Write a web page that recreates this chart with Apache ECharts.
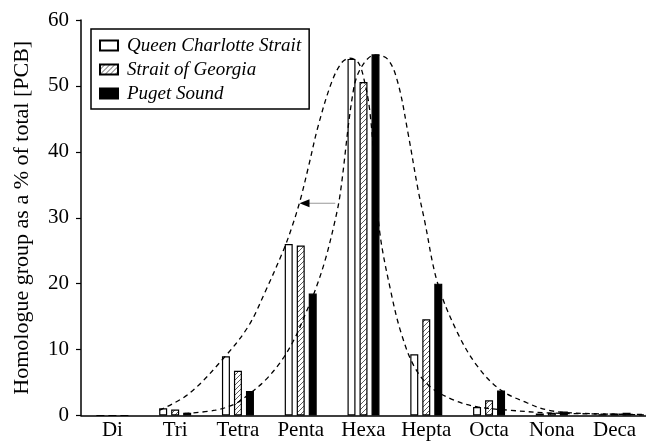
<!DOCTYPE html>
<html><head><meta charset="utf-8">
<script src="https://cdn.jsdelivr.net/npm/echarts@6/dist/echarts.min.js"></script>
<style>html,body{margin:0;padding:0;background:#fff}#c{width:646px;height:443px}</style>
</head><body><div id="c"></div>
<script>
const categories = ['Di','Tri','Tetra','Penta','Hexa','Hepta','Octa','Nona','Deca'];
const qcs = [0, 1.1, 9.0, 26.0, 54.1, 9.3, 1.3, 0.3, 0.2];
const sog = [0, 0.9, 6.8, 25.8, 50.6, 14.6, 2.3, 0.4, 0.3];
const ps  = [0, 0.4, 3.7, 18.5, 54.8, 20.0, 3.8, 0.6, 0.4];
const yTicks = [0, 10, 20, 30, 40, 50, 60];
// dashed fitted curves: [category position, %]
const qcsFit = [[0.75,0.8],[1.22,3.3],[1.79,8.9],[2.17,13.6],[2.44,18.9],[2.73,25.2],[2.86,28.6],[2.99,32.6],[3.12,37.6],[3.28,44.0],[3.49,50.5],[3.65,53.5],[3.78,54.2],[3.92,53.5],[4.02,50.5],[4.10,46.2],[4.18,37.5],[4.26,27.7],[4.44,18.6],[4.60,12.5],[4.81,7.4],[5.07,4.3],[5.45,2.3],[5.82,1.3],[6.29,0.83],[6.93,0.4],[7.72,0.23],[8.5,0.15]];
const psFit = [[1.15,0.3],[1.64,0.8],[1.96,1.8],[2.17,3.2],[2.44,5.4],[2.70,8.4],[2.91,11.8],[3.07,15.3],[3.23,19.0],[3.39,23.6],[3.55,29.7],[3.63,33.7],[3.84,49.4],[3.97,52.9],[4.18,54.7],[4.39,54.0],[4.55,50.4],[4.71,42.8],[4.87,34.2],[4.97,29.7],[5.18,20.1],[5.50,12.5],[5.82,7.4],[6.18,3.9],[6.61,1.9],[6.93,0.83],[7.35,0.38],[8.5,0.1]];
const arrowFrom = [3.55, 32.2];
const arrowTo = [3.06, 32.2];

const serif = "'Liberation Serif','DejaVu Serif',serif";
// hatch pattern
const pc = document.createElement('canvas');
pc.width = 5; pc.height = 5;
const g = pc.getContext('2d');
g.fillStyle = '#fff'; g.fillRect(0,0,5,5);
g.strokeStyle = '#333'; g.lineWidth = 0.8;
g.beginPath(); g.moveTo(0,5); g.lineTo(5,0); g.moveTo(-1,1); g.lineTo(1,-1); g.moveTo(4,6); g.lineTo(6,4); g.stroke();
const hatch = {image: pc, repeat: 'repeat'};

const chart = echarts.init(document.getElementById('c'), null, {renderer:'canvas'});
const dashed = {color:'#000', width:1.3, type:[5,4]};
chart.setOption({
  animation: false,
  backgroundColor: '#fff',
  grid: {left: 81, top: 20, width: 568, height: 395.5},
  legend: {
    left: 91, top: 29, orient: 'vertical', padding: [7, 8, 6, 8], itemGap: 5,
    borderColor: '#000', borderWidth: 1.5, itemWidth: 18, itemHeight: 10, icon: 'rect',
    data: ['Queen Charlotte Strait', 'Strait of Georgia', 'Puget Sound'],
    textStyle: {fontFamily: serif, fontStyle: 'italic', fontSize: 19, color: '#000', padding: [0,0,0,4]}
  },
  xAxis: [{
    type: 'category', data: categories, gridIndex: 0,
    axisLine: {lineStyle: {color:'#000', width:1.5}},
    axisTick: {alignWithLabel: true, length: 5, lineStyle:{color:'#000', width:1.2}},
    axisLabel: {interval: 0, hideOverlap: false, fontFamily: serif, fontSize: 21, color:'#000', margin: 4}
  }, {
    type: 'value', min: -0.5, max: 8.5, show: false, gridIndex: 0
  }],
  yAxis: {
    type: 'value', min: 0, max: 60, interval: 10,
    name: 'Homologue group as a % of total [PCB]', nameLocation: 'middle', nameGap: 48,
    nameTextStyle: {fontFamily: serif, fontSize: 22, color:'#000'},
    splitLine: {show: false},
    axisLine: {show: true, onZero: false, lineStyle: {color:'#000', width:1.5}},
    axisTick: {show: true, length: 5, lineStyle:{color:'#000', width:1.2}},
    axisLabel: {fontFamily: serif, fontSize: 21, color:'#000', margin: 12,
      formatter: v => yTicks.includes(v) ? String(v) : ''}
  },
  series: [
    {name:'Queen Charlotte Strait', type:'bar', data: qcs, barWidth: 8, barGap: '50%',
      itemStyle:{color:'#fff', borderColor:'#000', borderWidth:1.2}},
    {name:'Strait of Georgia', type:'bar', data: sog, barWidth: 8, barGap: '50%',
      itemStyle:{color: hatch, borderColor:'#000', borderWidth:1.2}},
    {name:'Puget Sound', type:'bar', data: ps, barWidth: 8, barGap: '50%',
      itemStyle:{color:'#000', borderColor:'#000', borderWidth:1.2}},
    {name:'fit1', type:'line', xAxisIndex:1, data: qcsFit, smooth: 0.35, showSymbol:false,
      lineStyle: dashed, z: 5},
    {name:'fit2', type:'line', xAxisIndex:1, data: psFit, smooth: 0.35, showSymbol:false,
      lineStyle: dashed, z: 5},
    {name:'arrow', type:'line', xAxisIndex:1, z: 6, showSymbol: true, showAllSymbol: true,
      lineStyle:{color:'#999', width:1.2},
      data: [{value: arrowFrom, symbol:'none'},
             {value: arrowTo, symbol:'triangle', symbolSize:[8,10], symbolRotate: 90, itemStyle:{color:'#000'}}]}
  ]
});
</script></body></html>
